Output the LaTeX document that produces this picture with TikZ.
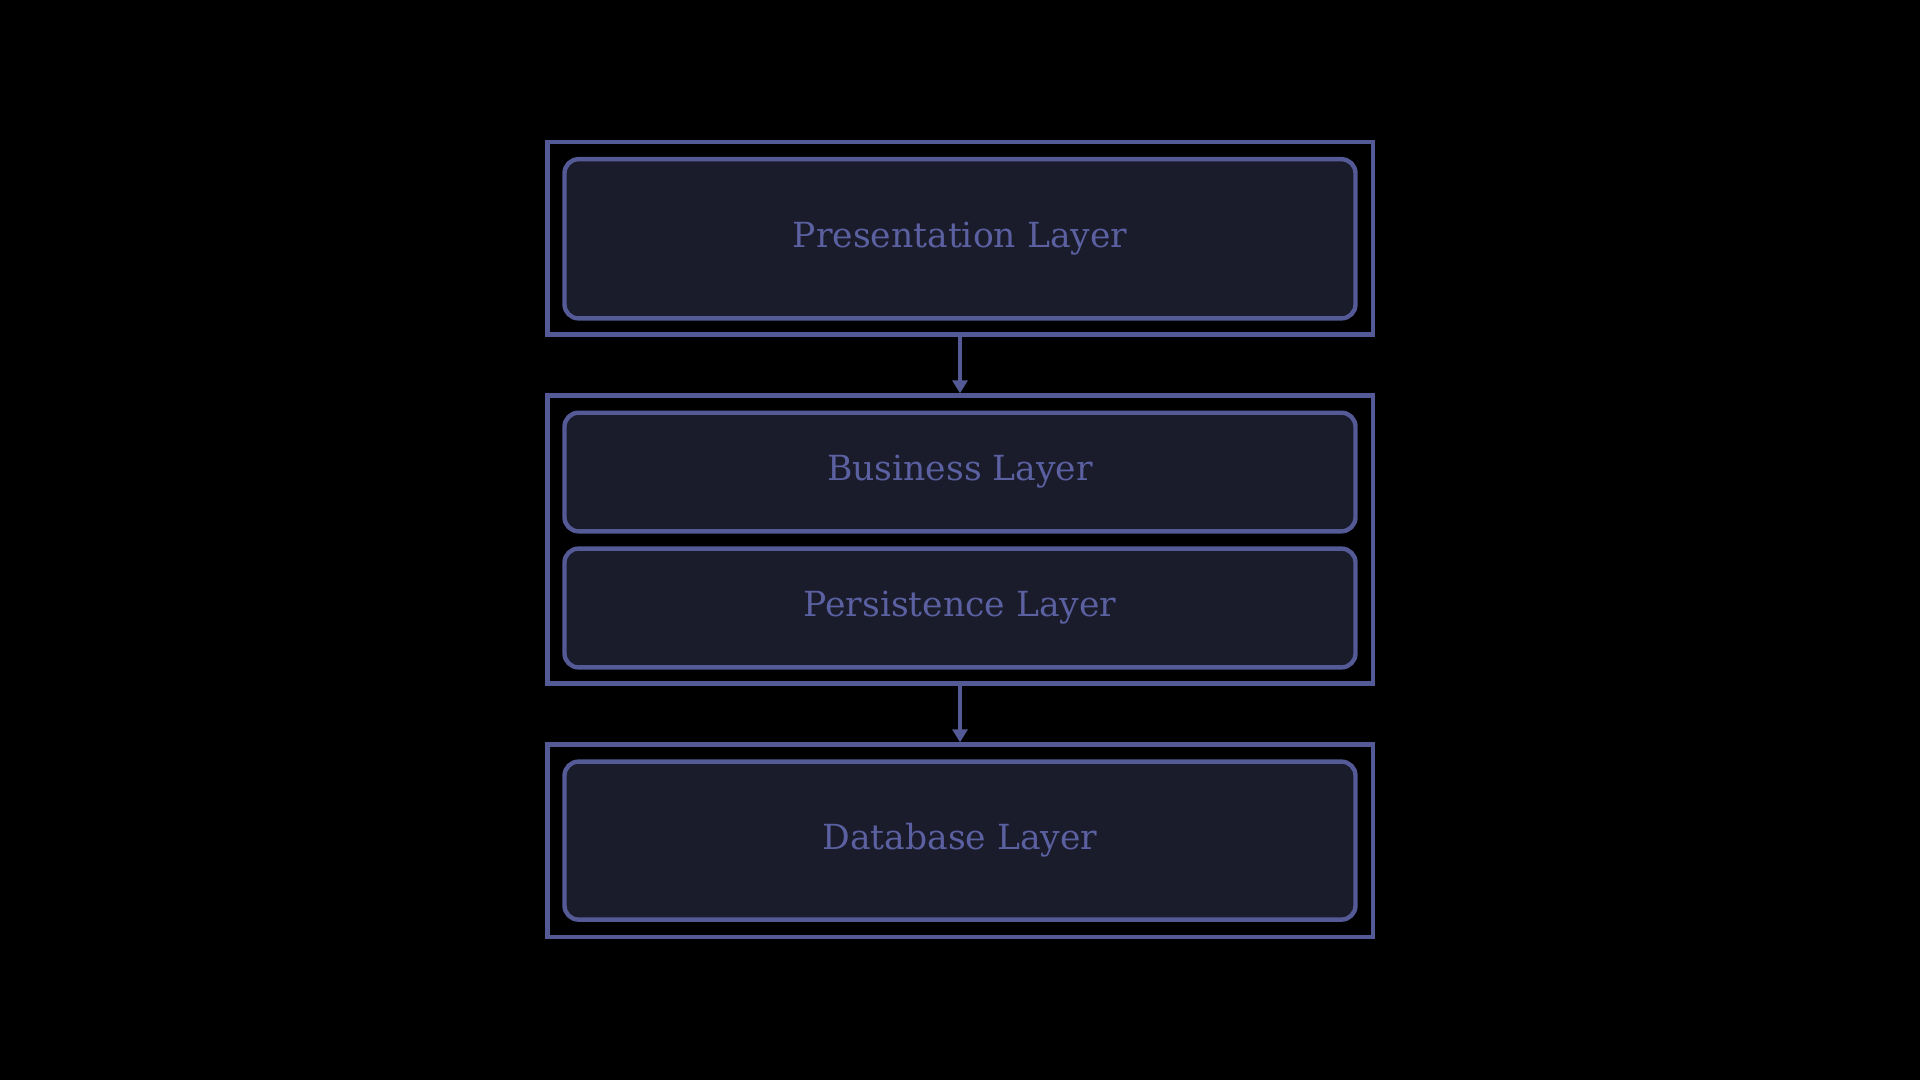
\documentclass[tikz,border=0pt]{standalone}
\usepackage{fontspec}
\setmainfont{DejaVu Serif}
\usetikzlibrary{arrows.meta}
\definecolor{bordc}{HTML}{535A95}
\definecolor{fillc}{HTML}{1A1B2B}
\definecolor{textc}{HTML}{5A60A0}
\begin{document}
\begin{tikzpicture}[x=1pt,y=-1pt,
  outerbox/.style={draw=bordc,line width=2.2pt,rectangle,minimum width=412.7pt,inner sep=0pt},
  layerbox/.style={draw=bordc,fill=fillc,line width=2.2pt,rectangle,rounded corners=7pt,minimum width=395.5pt,inner sep=0pt,text=textc,font=\fontsize{17.3}{20}\selectfont},
  flow/.style={draw=bordc,line width=2.2pt,-{Triangle[width=7.5pt,length=6.5pt]}}]
\fill[black] (0,0) rectangle (960,540);
\useasboundingbox (0,0) rectangle (960,540);
\node[outerbox,minimum height=96.2pt] (o1) at (480,119.1) {};
\node[layerbox,minimum height=79.6pt] (pres) at (480,119.4) {Presentation Layer};
\node[outerbox,minimum height=143.9pt] (o2) at (480,269.7) {};
\node[layerbox,minimum height=59.3pt] (bus) at (480,236.0) {Business Layer};
\node[layerbox,minimum height=59.4pt] (pers) at (480,304.0) {Persistence Layer};
\node[outerbox,minimum height=96.1pt] (o3) at (480,420.3) {};
\node[layerbox,minimum height=79pt] (db) at (480,420.3) {Database Layer};
\draw[flow] (o1.south) -- (o2.north);
\draw[flow] (o2.south) -- (o3.north);
\end{tikzpicture}
\end{document}
